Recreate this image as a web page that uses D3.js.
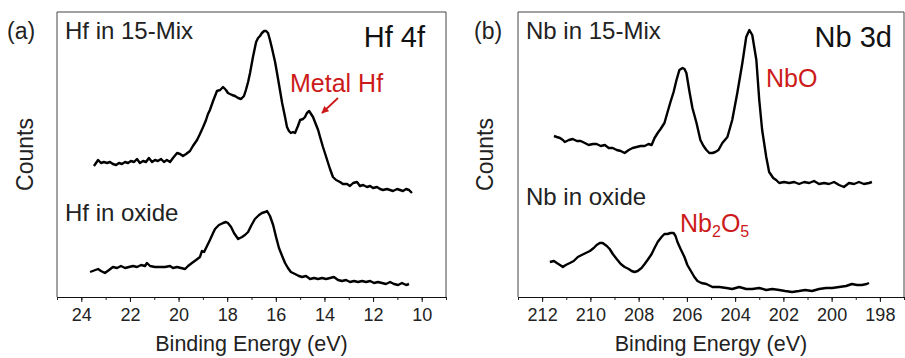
<!DOCTYPE html>
<html>
<head>
<meta charset="utf-8">
<script src="https://cdn.jsdelivr.net/npm/d3@7"></script>
<style>
  body { margin: 0; background: #fff; }
  text { font-family: "Liberation Sans", Arial, sans-serif; }
</style>
</head>
<body>
<div id="chart"></div>
<script>
// 数据: [结合能 eV, 计数 a.u.]
var hfMix = [
  [23.48,131],[23.31,137],[23.19,134],[23.07,135],[22.94,134],[22.82,135],[22.70,133],[22.57,132],
  [22.45,134],[22.33,133],[22.20,135],[22.08,134],[21.96,136],[21.83,135],[21.71,138],[21.59,134],
  [21.46,136],[21.34,135],[21.22,139],[21.09,135],[20.97,137],[20.85,136],[20.72,138],[20.60,135],
  [20.48,137],[20.35,135],[20.23,139],[20.06,144],[19.94,143],[19.82,141],[19.69,143],[19.53,146],
  [19.41,151],[19.24,157],[19.12,163],[18.99,170],[18.87,177],[18.79,183],[18.71,187],[18.58,196],
  [18.50,201],[18.42,206],[18.29,207],[18.17,210],[18.05,207],[17.97,204],[17.80,202],[17.68,201],
  [17.55,199],[17.43,198],[17.31,201],[17.23,207],[17.14,215],[17.06,224],[16.94,240],[16.81,255],
  [16.73,259],[16.65,261],[16.57,264],[16.48,266],[16.40,266],[16.32,264],[16.24,257],[16.16,249],
  [16.03,235],[15.95,224],[15.83,207],[15.74,194],[15.62,180],[15.54,170],[15.46,166],[15.38,164],
  [15.29,165],[15.21,164],[15.09,171],[15.00,177],[14.88,178],[14.80,180],[14.72,184],[14.63,186],
  [14.55,183],[14.47,180],[14.39,175],[14.26,167],[14.18,160],[14.06,150],[13.98,144],[13.85,134],
  [13.77,128],[13.65,120],[13.52,117],[13.36,115],[13.24,113],[13.07,113],[12.95,111],[12.82,114],
  [12.66,115],[12.54,111],[12.41,112],[12.25,110],[12.12,111],[12.00,109],[11.84,110],[11.71,108],
  [11.59,107],[11.43,108],[11.30,107],[11.18,106],[11.01,108],[10.89,107],[10.77,106],[10.64,108],
  [10.52,107],[10.40,104]
];

var hfOxide = [
  [23.64,25],[23.31,28],[23.19,26],[23.03,24],[22.86,27],[22.70,30],[22.53,29],[22.37,31],
  [22.20,29],[22.04,30],[21.87,31],[21.71,30],[21.54,32],[21.38,31],[21.30,34],[21.17,31],
  [20.97,30],[20.76,30],[20.56,30],[20.35,31],[20.23,29],[20.06,30],[19.90,29],[19.73,28],
  [19.61,31],[19.45,34],[19.28,37],[19.12,40],[19.04,46],[18.95,45],[18.83,51],[18.71,57],
  [18.58,64],[18.50,68],[18.34,72],[18.17,74],[18.05,75],[17.97,74],[17.84,70],[17.72,64],
  [17.55,58],[17.39,60],[17.27,62],[17.14,65],[17.02,71],[16.86,78],[16.69,82],[16.57,84],
  [16.44,85],[16.36,86],[16.24,81],[16.11,72],[15.99,60],[15.87,49],[15.74,41],[15.62,34],
  [15.50,29],[15.38,25],[15.21,23],[15.05,21],[14.92,20],[14.76,21],[14.59,18],[14.43,19],
  [14.26,18],[14.10,19],[13.93,18],[13.77,19],[13.61,20],[13.44,17],[13.28,16],[13.11,17],
  [12.95,15],[12.78,16],[12.62,15],[12.45,16],[12.29,15],[12.12,16],[11.96,14],[11.80,15],
  [11.63,14],[11.47,13],[11.30,15],[11.14,13],[10.97,12],[10.81,14],[10.64,12],[10.52,13]
];

var nbMix = [
  [211.51,161],[211.39,160],[211.26,159],[211.14,157],[211.06,155],[210.89,157],[210.73,158],[210.56,156],
  [210.40,156],[210.23,154],[210.07,152],[209.90,153],[209.74,153],[209.57,151],[209.40,152],[209.24,149],
  [209.07,149],[208.91,147],[208.74,146],[208.58,144],[208.41,147],[208.25,149],[208.08,150],[207.92,151],
  [207.75,151],[207.59,153],[207.46,152],[207.34,159],[207.21,164],[207.09,168],[206.93,174],[206.80,185],
  [206.68,195],[206.55,205],[206.43,217],[206.31,227],[206.18,229],[206.10,228],[206.02,224],[205.89,205],
  [205.77,189],[205.60,174],[205.44,157],[205.31,151],[205.19,147],[205.07,144],[204.94,144],[204.82,145],
  [204.69,147],[204.53,154],[204.32,160],[204.12,177],[203.91,204],[203.70,234],[203.54,260],[203.41,267],
  [203.29,262],[203.12,237],[203.00,197],[202.88,167],[202.71,140],[202.59,125],[202.42,119],[202.30,117],
  [202.17,114],[201.97,115],[201.76,114],[201.55,115],[201.35,113],[201.14,115],[200.93,114],[200.73,116],
  [200.52,113],[200.31,114],[200.11,113],[199.90,115],[199.69,112],[199.49,110],[199.28,114],[199.07,113],
  [198.87,115],[198.66,113],[198.45,114],[198.33,115]
];

var nbOxide = [
  [211.68,35],[211.51,36],[211.39,34],[211.26,32],[211.14,30],[211.02,32],[210.85,34],[210.69,36],
  [210.52,40],[210.36,42],[210.19,44],[210.02,46],[209.86,49],[209.74,52],[209.61,54],[209.49,54],
  [209.32,51],[209.20,48],[209.07,43],[208.91,38],[208.74,33],[208.58,30],[208.41,28],[208.29,26],
  [208.17,25],[208.04,26],[207.88,29],[207.75,33],[207.63,37],[207.46,43],[207.34,49],[207.21,55],
  [207.05,60],[206.93,63],[206.80,63],[206.68,64],[206.55,64],[206.47,61],[206.39,55],[206.26,48],
  [206.10,40],[205.98,32],[205.81,25],[205.69,20],[205.56,16],[205.40,14],[205.19,13],[204.94,10],
  [204.65,10],[204.36,9],[204.12,8],[203.83,10],[203.54,8],[203.29,8],[203.00,9],[202.71,7],
  [202.46,8],[202.17,7],[201.93,6],[201.64,5],[201.35,6],[201.10,7],[200.81,6],[200.52,8],
  [200.23,9],[199.98,9],[199.69,10],[199.40,11],[199.16,13],[198.95,12],[198.74,12],[198.55,13],
  [198.45,14]
];

// 刻度
var hfTicks = [24, 22, 20, 18, 16, 14, 12, 10];
var nbTicks = [212, 210, 208, 206, 204, 202, 200, 198];
var hfDomain = [25, 9];
var nbDomain = [213, 197];
var countsDomain = [0, 285];

var W = 905, H = 358;
var plotTop = 12, plotBottom = 297;

var svg = d3.select("#chart").append("svg")
  .attr("width", W).attr("height", H);

var panels = [
  { left: 57, right: 446, domain: hfDomain, ticks: hfTicks, series: [hfMix, hfOxide],
    tag: "(a)", tagX: 7, countsX: 33,
    lab1: "Hf in 15-Mix", lab2: "Hf in oxide", lab2Y: 221, title: "Hf 4f", titleX: 425 },
  { left: 518, right: 904, domain: nbDomain, ticks: nbTicks, series: [nbMix, nbOxide],
    tag: "(b)", tagX: 474, countsX: 493,
    lab1: "Nb in 15-Mix", lab2: "Nb in oxide", lab2Y: 205, title: "Nb 3d", titleX: 892 }
];

var y = d3.scaleLinear().domain(countsDomain).range([plotBottom, plotTop]);

panels.forEach(function(p) {
  var x = d3.scaleLinear().domain(p.domain).range([p.left, p.right]);
  var g = svg.append("g");

  // 边框
  g.append("path")
    .attr("d", "M" + p.left + "," + plotBottom + "V" + plotTop + "H" + p.right + "V" + plotBottom)
    .attr("fill", "none").attr("stroke", "#444").attr("stroke-width", 1);

  // x 轴, 先画小刻度
  var minor = d3.range(Math.ceil(p.domain[1]), Math.floor(p.domain[0]) + 1);
  g.append("g")
    .attr("transform", "translate(0," + plotBottom + ")")
    .call(d3.axisBottom(x).tickValues(minor).tickSize(3).tickFormat(""))
    .call(a => a.select(".domain").remove())
    .selectAll("line").attr("stroke", "#222");

  var ax = g.append("g")
    .attr("transform", "translate(0," + plotBottom + ")")
    .call(d3.axisBottom(x).tickValues(p.ticks).tickSize(5).tickPadding(6).tickSizeOuter(0));
  ax.select(".domain").attr("stroke", "#111").attr("stroke-width", 1.2);
  ax.selectAll(".tick line").attr("stroke", "#111");
  ax.selectAll(".tick text")
    .attr("font-size", 18).attr("fill", "#222")
    .attr("font-family", "'Liberation Sans', Arial, sans-serif");

  g.append("text")
    .attr("x", (p.left + p.right) / 2).attr("y", 351)
    .attr("text-anchor", "middle").attr("font-size", 21.5).attr("fill", "#222")
    .text("Binding Energy (eV)");

  g.append("text")
    .attr("transform", "translate(" + p.countsX + "," + ((plotTop + plotBottom) / 2) + ") rotate(-90)")
    .attr("text-anchor", "middle").attr("font-size", 23).attr("fill", "#222")
    .text("Counts");

  // 曲线
  var line = d3.line().x(d => x(d[0])).y(d => y(d[1]));
  p.series.forEach(function(s) {
    g.append("path").datum(s)
      .attr("d", line)
      .attr("fill", "none").attr("stroke", "#000")
      .attr("stroke-width", 2.4).attr("stroke-linejoin", "round");
  });

  g.append("text").attr("x", p.tagX).attr("y", 39)
    .attr("font-size", 23).attr("fill", "#222").text(p.tag);
  g.append("text").attr("x", p.left + 8).attr("y", 39)
    .attr("font-size", 24).attr("fill", "#222").text(p.lab1);
  g.append("text").attr("x", p.left + 8).attr("y", p.lab2Y)
    .attr("font-size", 24).attr("fill", "#222").text(p.lab2);
  g.append("text").attr("x", p.titleX).attr("y", 47).attr("text-anchor", "end")
    .attr("font-size", 29).attr("fill", "#111").text(p.title);
});

// 红色注释
var red = "#cc1a1a";
svg.append("defs").append("marker")
  .attr("id", "arr").attr("viewBox", "0 0 10 10").attr("refX", 9).attr("refY", 5)
  .attr("markerWidth", 4).attr("markerHeight", 4).attr("orient", "auto")
  .append("path").attr("d", "M0,0L10,5L0,10z").attr("fill", red);

svg.append("text").attr("x", 290).attr("y", 92)
  .attr("font-size", 25).attr("fill", red).text("Metal Hf");
svg.append("line")
  .attr("x1", 338).attr("y1", 98).attr("x2", 322).attr("y2", 113)
  .attr("stroke", red).attr("stroke-width", 1.8).attr("marker-end", "url(#arr)");

svg.append("text").attr("x", 766).attr("y", 87)
  .attr("font-size", 25).attr("fill", red).text("NbO");

var nb2o5 = svg.append("text").attr("x", 680).attr("y", 232)
  .attr("font-size", 25).attr("fill", red);
nb2o5.append("tspan").text("Nb");
nb2o5.append("tspan").attr("font-size", 16).attr("dy", 5).text("2");
nb2o5.append("tspan").attr("dy", -5).text("O");
nb2o5.append("tspan").attr("font-size", 16).attr("dy", 5).text("5");
</script>
</body>
</html>
